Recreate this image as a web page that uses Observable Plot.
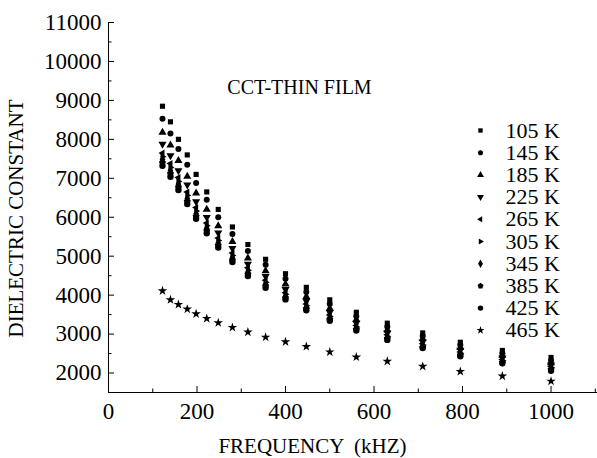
<!DOCTYPE html>
<html>
<head>
<meta charset="utf-8">
<script src="https://cdn.jsdelivr.net/npm/d3@7"></script>
<script src="https://cdn.jsdelivr.net/npm/@observablehq/plot@0.6"></script>
<style>
  html, body { margin: 0; padding: 0; background: #fff; }
  #chart { width: 597px; height: 458px; }
</style>
</head>
<body>
<div id="chart"></div>
<script>
// ---- data ----
const frequency = [122, 140, 158, 178, 198, 222, 248, 280, 315, 355, 400, 447, 500, 560, 630, 710, 795, 890, 1000];
const seriesNames = ["105 K", "145 K", "185 K", "225 K", "265 K", "305 K", "345 K", "385 K", "425 K", "465 K"];
const k105 = [8850, 8450, 8000, 7600, 7100, 6650, 6200, 5750, 5300, 4920, 4550, 4200, 3880, 3560, 3280, 3030, 2790, 2580, 2400];
const k145 = [8530, 8150, 7750, 7350, 6880, 6450, 6000, 5570, 5130, 4780, 4420, 4080, 3770, 3460, 3190, 2950, 2720, 2510, 2320];
const k185 = [8180, 7850, 7450, 7050, 6620, 6200, 5780, 5370, 4950, 4620, 4280, 3960, 3660, 3370, 3110, 2880, 2650, 2450, 2260];
const k225 = [7880, 7580, 7200, 6830, 6400, 6000, 5600, 5200, 4800, 4480, 4150, 3850, 3560, 3280, 3030, 2800, 2590, 2390, 2210];
const k265 = [7650, 7380, 7020, 6650, 6250, 5850, 5470, 5080, 4700, 4380, 4060, 3770, 3490, 3220, 2980, 2750, 2540, 2350, 2170];
const k305 = [7550, 7280, 6920, 6560, 6160, 5780, 5400, 5020, 4640, 4330, 4020, 3730, 3450, 3180, 2940, 2720, 2510, 2320, 2140];
const k345 = [7480, 7200, 6850, 6480, 6090, 5710, 5340, 4960, 4590, 4280, 3970, 3690, 3410, 3150, 2910, 2690, 2480, 2290, 2110];
const k385 = [7400, 7120, 6770, 6410, 6020, 5650, 5280, 4900, 4540, 4240, 3930, 3650, 3380, 3120, 2880, 2660, 2460, 2270, 2090];
const k425 = [7320, 7040, 6700, 6340, 5960, 5590, 5220, 4850, 4490, 4190, 3890, 3610, 3340, 3090, 2850, 2640, 2430, 2250, 2060];
const k465 = [4110, 3880, 3760, 3640, 3520, 3400, 3290, 3170, 3050, 2920, 2800, 2680, 2540, 2410, 2300, 2170, 2040, 1920, 1790];
const xMajorTicks = [0, 200, 400, 600, 800, 1000];
const xMinorTicks = [100, 300, 500, 700, 900, 1100];
const yMajorTicks = [2000, 3000, 4000, 5000, 6000, 7000, 8000, 9000, 10000, 11000];
const yMinorTicks = [2500, 3500, 4500, 5500, 6500, 7500, 8500, 9500, 10500];
const titleText = "CCT-THIN FILM";
const xLabel = "FREQUENCY  (kHZ)";
const yLabel = "DIELECTRIC CONSTANT";

const allSeries = [k105, k145, k185, k225, k265, k305, k345, k385, k425, k465];

// ---- custom symbols ----
const sqrt3 = Math.sqrt(3);
function triPts(size) { return -Math.sqrt(size / (sqrt3 * 3)); }
const symDown = { draw(c, s) { const y = triPts(s); c.moveTo(0, -2 * y); c.lineTo(-sqrt3 * y, y); c.lineTo(sqrt3 * y, y); c.closePath(); } };
const symLeft = { draw(c, s) { const y = triPts(s); c.moveTo(2 * y, 0); c.lineTo(-y, -sqrt3 * y); c.lineTo(-y, sqrt3 * y); c.closePath(); } };
const symRight = { draw(c, s) { const y = triPts(s); c.moveTo(-2 * y, 0); c.lineTo(y, -sqrt3 * y); c.lineTo(y, sqrt3 * y); c.closePath(); } };
const symPent = { draw(c, s) { const r = Math.sqrt(s / 2.3776); for (let i = 0; i < 5; i++) { const a = -Math.PI / 2 + i * 2 * Math.PI / 5; const px = r * Math.cos(a), py = r * Math.sin(a); if (i === 0) c.moveTo(px, py); else c.lineTo(px, py); } c.closePath(); } };
const symbols = [d3.symbolSquare, d3.symbolCircle, d3.symbolTriangle, symDown, symLeft, symRight, d3.symbolDiamond, symPent, d3.symbolCircle, d3.symbolStar];
const radii = [2.9, 3.0, 3.0, 3.0, 2.6, 2.6, 3.0, 3.2, 3.2, 3.0];

// ---- layout ----
const W = 597, H = 458;
const mL = 108, mR = 0, mT = 22, mB = 66;
const xDomain = [0, 1105], yDomain = [1500, 11000];
const pxX = (W - mL - mR) / (xDomain[1] - xDomain[0]);
const pxY = (H - mT - mB) / (yDomain[1] - yDomain[0]);
const fontFamily = "'Liberation Serif', 'Times New Roman', serif";

// legend layout (in data units derived from pixel layout)
const legX = (480 - mL) / pxX;
const legTextX = (505 - mL) / pxX;
const legY0 = yDomain[1] - (130 - mT) / pxY;
const legStep = 22.2 / pxY;
const legend = seriesNames.map((name, i) => ({ name, i, y: legY0 - i * legStep }));

const marks = [];
allSeries.forEach((vals, si) => {
  const rows = frequency.map((f, j) => ({ f, v: vals[j] }));
  marks.push(Plot.dot(rows, { x: "f", y: "v", symbol: symbols[si], r: radii[si], fill: "black", stroke: "none" }));
  marks.push(Plot.dot([legend[si]], { x: () => legX, y: "y", symbol: symbols[si], r: radii[si] * 0.85, fill: "black", stroke: "none" }));
});
marks.push(Plot.text(legend, { x: () => legTextX, y: "y", text: "name", textAnchor: "start", fontSize: 22, fill: "black" }));
marks.push(Plot.text([titleText], { x: () => (299 - mL) / pxX, y: () => yDomain[1] - (87 - mT) / pxY, text: d => d, fontSize: 20, fill: "black" }));

// axes lines and inward ticks
marks.push(Plot.ruleY([yDomain[0]], { stroke: "black", strokeWidth: 1 }));
marks.push(Plot.ruleX([0], { stroke: "black", strokeWidth: 1 }));
marks.push(Plot.ruleX(xMajorTicks, { x: d => d, y1: yDomain[0], y2: yDomain[0] + 6 / pxY, stroke: "black" }));
marks.push(Plot.ruleX(xMinorTicks, { x: d => d, y1: yDomain[0], y2: yDomain[0] + 3.5 / pxY, stroke: "black" }));
marks.push(Plot.ruleY(yMajorTicks, { y: d => d, x1: 0, x2: 6 / pxX, stroke: "black" }));
marks.push(Plot.ruleY(yMinorTicks, { y: d => d, x1: 0, x2: 3.5 / pxX, stroke: "black" }));
marks.push(Plot.axisX(xMajorTicks, { tickSize: 0, tickPadding: 10, fontSize: 23, label: null, tickFormat: d => String(d) }));
marks.push(Plot.axisY(yMajorTicks, { tickSize: 0, tickPadding: 7, fontSize: 23, label: null, tickFormat: d => String(d) }));
marks.push(Plot.text([yLabel], { frameAnchor: "left", textAnchor: "middle", dx: -92, dy: 11, rotate: -90, text: d => d, fontSize: 21, fill: "black" }));
marks.push(Plot.text([xLabel], { frameAnchor: "bottom", textAnchor: "middle", dx: 312 - (mL + (W - mL - mR) / 2), dy: 60, text: d => d, fontSize: 21, fill: "black" }));

const chart = Plot.plot({
  width: W, height: H,
  marginLeft: mL, marginRight: mR, marginTop: mT, marginBottom: mB,
  x: { domain: xDomain },
  y: { domain: yDomain },
  style: { fontFamily, fontSize: "17px", color: "black", background: "white", overflow: "visible" },
  marks
});
document.getElementById("chart").appendChild(chart);
</script>
</body>
</html>
